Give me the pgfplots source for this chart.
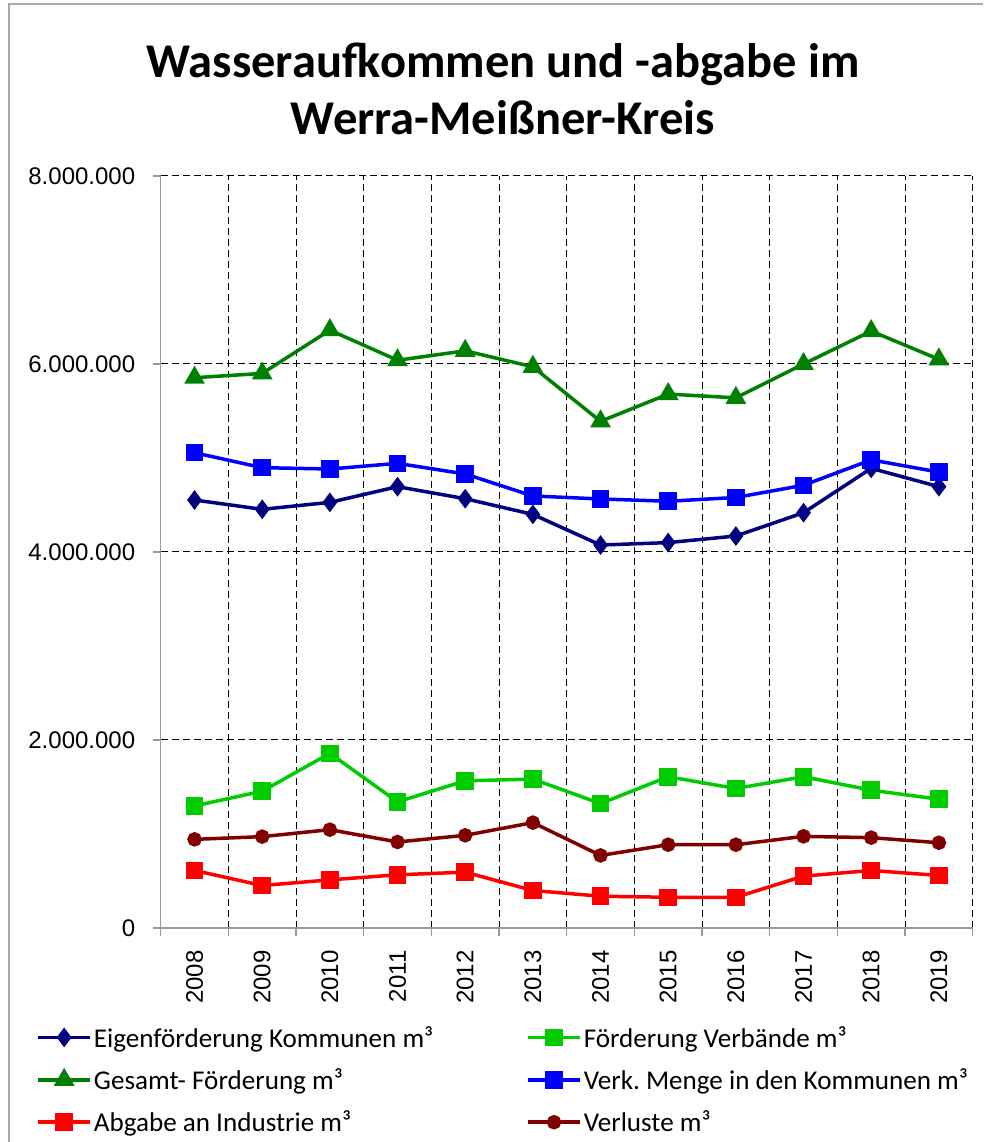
\documentclass[border=0pt]{standalone}
\usepackage{fontspec}
\setmainfont{Carlito}
\newfontfamily\arialf{Liberation Sans}
\usepackage{pgfplots}
\pgfplotsset{compat=1.18}
\definecolor{cNavy}{RGB}{0,0,128}
\definecolor{cLGreen}{RGB}{0,204,0}
\definecolor{cDGreen}{RGB}{0,128,0}
\definecolor{cBlue}{RGB}{0,0,255}
\definecolor{cRed}{RGB}{255,0,0}
\definecolor{cDRed}{RGB}{128,0,0}
\definecolor{cFrame}{RGB}{170,170,170}
\frenchspacing
\begin{document}
\begin{tikzpicture}
\path[use as bounding box] (0pt,0pt) rectangle (983pt,1142pt);
\draw[cFrame, line width=1.5pt] (9pt,0pt) -- (9pt,1138pt) -- (983pt,1138pt);
\node[font=\bfseries\fontsize{48.5}{57}\selectfont, align=center] at (503pt,1053pt) {Wasseraufkommen und -abgabe im\\Werra-Meißner-Kreis};
\begin{axis}[
  at={(160.7pt,214pt)}, anchor=south west,
  scale only axis, width=812pt, height=752pt,
  xmin=-0.5, xmax=11.5, ymin=0, ymax=8000000,
  axis x line*=bottom, axis y line*=left,
  axis line style={draw=gray!80, line width=1.2pt},
  xtick={-0.5,0.5,...,11.5}, xticklabels={},
  extra x ticks={0,1,...,11},
  extra x tick labels={2008,2009,2010,2011,2012,2013,2014,2015,2016,2017,2018,2019},
  extra x tick style={grid=none, major tick length=0pt},
  ytick={0,2000000,4000000,6000000,8000000},
  scaled y ticks=false,
  yticklabel style={xshift=-14pt, /pgf/number format/.cd, fixed, precision=0, 1000 sep={.}, assume math mode=true},
  tick align=outside, major tick length=8pt,
  tick style={gray!80, line width=1.2pt},
  xmajorgrids, ymajorgrids,
  major grid style={black, line width=1pt, dash pattern=on 7pt off 4pt},
  tick label style={font=\arialf\fontsize{24}{28}\selectfont},
  xticklabel style={yshift=-19pt, rotate=90, anchor=east},
  legend columns=2,
  legend cell align=left,
  legend style={at={(-0.157,-0.125)}, anchor=north west, draw=none, fill=none,
    font=\fontsize{27.1}{31}\selectfont, row sep=16pt,
    /tikz/every even column/.append style={column sep=91pt}},
  legend image code/.code={\draw[mark repeat=2,mark phase=2,#1] plot coordinates {(0pt,0pt) (26pt,0pt) (52pt,0pt)};},
  every axis plot/.append style={line width=3.5pt},
]
\addplot[cNavy, mark=diamond*, mark size=7pt] coordinates {
(0,4553000) (1,4454000) (2,4528000) (3,4695000) (4,4567000) (5,4400000)
(6,4074000) (7,4100000) (8,4170000) (9,4418000) (10,4890000) (11,4695000)};
\addlegendentry{Eigenförderung Kommunen m³}
\addplot[cLGreen, mark=square*, mark size=7pt] coordinates {
(0,1299000) (1,1455000) (2,1858000) (3,1342000) (4,1566000) (5,1584000)
(6,1324000) (7,1609000) (8,1484000) (9,1609000) (10,1466000) (11,1370000)};
\addlegendentry{Förderung Verbände m³}
\addplot[cDGreen, mark=triangle*, mark size=8.5pt] coordinates {
(0,5854000) (1,5900000) (2,6360000) (3,6040000) (4,6140000) (5,5970000)
(6,5390000) (7,5680000) (8,5640000) (9,6000000) (10,6350000) (11,6050000)};
\addlegendentry{Gesamt- Förderung m³}
\addplot[cBlue, mark=square*, mark size=7pt] coordinates {
(0,5056000) (1,4897000) (2,4883000) (3,4943000) (4,4830000) (5,4596000)
(6,4564000) (7,4540000) (8,4580000) (9,4710000) (10,4980000) (11,4850000)};
\addlegendentry{Verk. Menge in den Kommunen m³}
\addplot[cRed, mark=square*, mark size=7pt] coordinates {
(0,612000) (1,452000) (2,512000) (3,566000) (4,594000) (5,399000)
(6,338000) (7,327000) (8,327000) (9,552000) (10,612000) (11,559000)};
\addlegendentry{Abgabe an Industrie m³}
\addplot[cDRed, mark=*, mark size=5.5pt] coordinates {
(0,943000) (1,972000) (2,1046000) (3,915000) (4,986000) (5,1121000)
(6,772000) (7,886000) (8,886000) (9,975000) (10,961000) (11,907000)};
\addlegendentry{Verluste m³}
\end{axis}
\end{tikzpicture}
\end{document}
